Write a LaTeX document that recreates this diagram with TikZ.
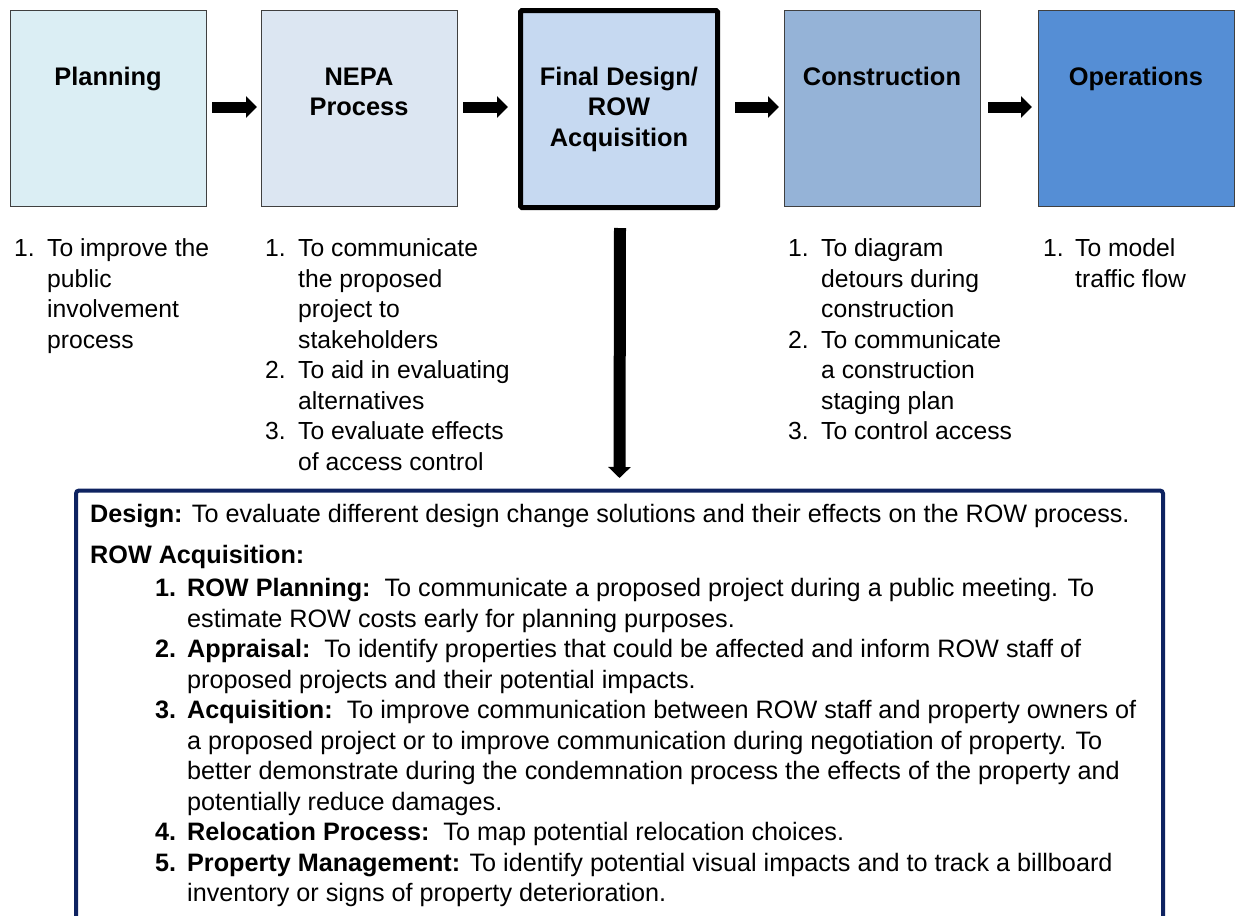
\documentclass[tikz,border=0pt]{standalone}
\usepackage{fontspec}
\setmainfont{Liberation Sans}
\usepackage{tikz}
\usetikzlibrary{arrows.meta}
\usepackage{xcolor}
\definecolor{planfill}{HTML}{DBEEF4}
\definecolor{nepafill}{HTML}{DCE6F2}
\definecolor{finalfill}{HTML}{C6D9F1}
\definecolor{consfill}{HTML}{95B3D7}
\definecolor{opsfill}{HTML}{558ED5}
\definecolor{navyline}{HTML}{0E2361}

\newcommand{\stagename}[1]{\begin{tabular}[t]{@{}c@{}}#1\end{tabular}}
\newcommand{\numlist}[2]{\begin{tabular}[t]{@{}p{#1}@{}l@{}}#2\end{tabular}}

\begin{document}
\begin{tikzpicture}[x=1pt,y=-1pt,
	stage/.style={draw=black!75,line width=1pt,minimum width=196pt,
		minimum height=196pt,inner sep=0pt},
	title/.style={anchor=base,inner sep=0pt,
		font=\bfseries\fontsize{25.4}{30.5}\selectfont},
	note/.style={anchor=base west,inner sep=0pt,
		font=\fontsize{24.7}{30.5}\selectfont},
	detailnote/.style={note,font=\fontsize{25.2}{30.5}\selectfont},
	blockarrow/.style={line width=11pt,-{Triangle[length=11pt,width=21pt]}}]
	\clip (0,0) rectangle (1235,916);
	
		% the five stages
		\node[stage,fill=planfill] (plan) at (108,108) {};
		\node[stage,fill=nepafill] (nepa) at (359,108) {};
		\node[stage,fill=finalfill,draw=black,line width=5pt,minimum width=197pt,
		minimum height=197pt,rounded corners=1.5pt] (final) at (619,109) {};
		\node[stage,fill=consfill] (cons) at (882,108) {};
		\node[stage,fill=opsfill] (ops) at (1136,108) {};
	
		\node[title] (plantitle) at (108,85) {\stagename{Planning}};
		\node[title] (nepatitle) at (359,85) {\stagename{NEPA\\Process}};
		\node[title] (finaltitle) at (619,85) 
		{\stagename{Final Design/\\ROW\\Acquisition}};
		\node[title] (constitle) at (882,85) {\stagename{Construction}};
		\node[title] (opstitle) at (1136,85) {\stagename{Operations}};
	
		\draw[blockarrow] ([xshift=5.5pt,yshift=1pt]plan.east) -- 
		([xshift=-3.5pt,yshift=1pt]nepa.west);
		\draw[blockarrow] ([xshift=5.5pt,yshift=1pt]nepa.east) -- 
		([xshift=-10pt,yshift=1pt]nepa.east -| final.west);
		\draw[blockarrow] ([xshift=15pt,yshift=1pt]cons.west -| final.east) -- 
		([xshift=-4.5pt,yshift=1pt]cons.west);
		\draw[blockarrow] ([xshift=7.5pt,yshift=1pt]cons.east) -- 
		([xshift=-5.5pt,yshift=1pt]ops.west);
	
		% uses of each stage
		\node[note] (planlist) at (14,256.5) {\numlist{33pt}{1.&To improve the\\
		&public\\&involvement\\&process}};
		\node[note] (nepalist) at (265,256.5) {\numlist{33pt}{1.&To communicate\\
		&the proposed\\&project to\\&stakeholders\\
		2.&To aid in evaluating\\&alternatives\\
		3.&To evaluate effects\\&of access control}};
		\node[note] (conslist) at (788,256.5) {\numlist{33pt}{1.&To diagram\\
		&detours during\\&construction\\
		2.&To communicate\\&a construction\\&staging plan\\
		3.&To control access}};
		\node[note] (opslist) at (1043,256.5) {\numlist{32pt}{1.&To model\\
		&traffic flow}};
	
		% detail of final design / ROW
		\node[draw=navyline,line width=4pt,rounded corners=3pt,inner sep=0pt,
		minimum width=1087pt,minimum height=500pt,anchor=north] (detail) 
		at (619.5,488.5) {};
		\draw[blockarrow,line width=12pt,-{Triangle[length=11pt,width=22pt]}] 
		([yshift=-18pt,xshift=1pt]final.south) -- ([yshift=10.5pt]detail.north);
	
		\node[detailnote] (design) at (90,522.5) {\textbf{Design:} To evaluate 
		different design change solutions and their effects on the ROW process.};
		\node[detailnote] (rowacq) at (90,563) {\textbf{ROW Acquisition:}};
		\node[detailnote] (rowlist) at (155,596.6) {\numlist{32pt}{
		\textbf{1.}&\textbf{ROW Planning:}\ \ To communicate a proposed project 
		during a public meeting. To\\
		&estimate ROW costs early for planning purposes.\\
		\textbf{2.}&\textbf{Appraisal:}\ \ To identify properties that could be 
		affected and inform ROW staff of\\
		&proposed projects and their potential impacts.\\
		\textbf{3.}&\textbf{Acquisition:}\ \ To improve communication between 
		ROW staff and property owners of\\
		&a proposed project or to improve communication during negotiation of 
		property. To\\
		&better demonstrate during the condemnation process the effects of the 
		property and\\
		&potentially reduce damages.\\
		\textbf{4.}&\textbf{Relocation Process:}\ \ To map potential relocation 
		choices.\\
		\textbf{5.}&\textbf{Property Management:} To identify potential visual 
		impacts and to track a billboard\\
		&inventory or signs of property deterioration.}};
	\end{tikzpicture}
\end{document}
